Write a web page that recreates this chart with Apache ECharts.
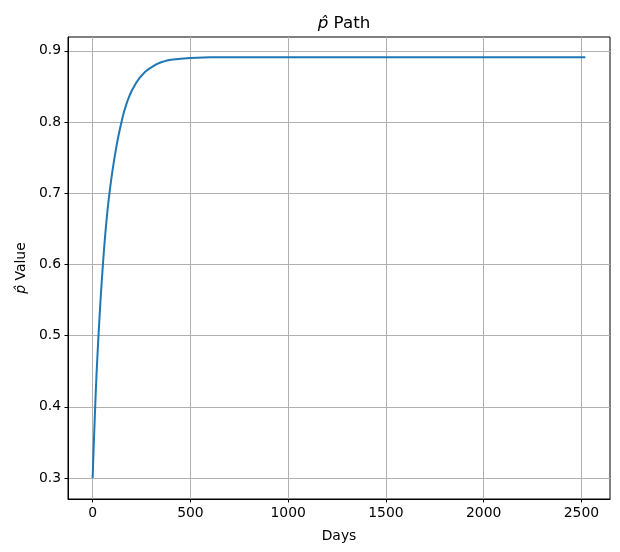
<!DOCTYPE html>
<html>
<head>
<meta charset="utf-8">
<script src="https://cdn.jsdelivr.net/npm/echarts@6.0.0/dist/echarts.min.js"></script>
<style>
html,body{margin:0;padding:0;background:#fff;}
#chart{width:620px;height:552px;}
</style>
</head>
<body>
<div id="chart"></div>
<script>
const days = [0,5,10,15,20,25,30,35,40,45,50,55,60,65,70,75,80,90,100,110,120,130,140,150,160,170,180,190,200,210,220,230,240,250,260,270,280,290,300,325,350,375,400,450,500,600,800,1000,1250,1500,1750,2000,2250,2520];
const pHat = [0.300,0.341,0.378,0.414,0.446,0.474,0.500,0.525,0.548,0.570,0.590,0.609,0.627,0.644,0.659,0.673,0.686,0.709,0.729,0.747,0.763,0.778,0.791,0.803,0.814,0.823,0.831,0.838,0.844,0.849,0.854,0.858,0.862,0.865,0.868,0.871,0.873,0.875,0.877,0.881,0.884,0.886,0.8875,0.889,0.890,0.891,0.891,0.891,0.891,0.891,0.891,0.891,0.891,0.891];
const xTicks = [0,500,1000,1500,2000,2500];
const yTicks = [0.3,0.4,0.5,0.6,0.7,0.8,0.9];

const FONT = 'DejaVu Sans';
const chart = echarts.init(document.getElementById('chart'), null, {renderer:'canvas'});
const series = days.map((d,i)=>[d,pHat[i]]);
chart.setOption({
  animation:false,
  backgroundColor:'#fff',
  title:{
    text:'{it|p\u0302} Path',
    left:339, top:10, textAlign:'center',
    textStyle:{
      fontFamily:FONT, fontSize:16.7, fontWeight:'normal', color:'#000',
      rich:{it:{fontFamily:FONT, fontSize:16.7, fontStyle:'italic', color:'#000'}}
    }
  },
  grid:{left:68,right:10,top:37,bottom:53,show:true,borderColor:'#000',borderWidth:1,backgroundColor:'transparent'},
  xAxis:{
    type:'value', min:-126, max:2646,
    name:'Days', nameLocation:'middle', nameGap:30,
    nameTextStyle:{fontFamily:FONT,fontSize:13.9,color:'#000'},
    axisLine:{show:true,onZero:false,lineStyle:{color:'#000',width:1}},
    axisTick:{show:true,inside:false,length:3.5,lineStyle:{color:'#000'},customValues:xTicks},
    axisLabel:{fontFamily:FONT,fontSize:13.9,color:'#000',margin:7,customValues:xTicks,formatter:v=>String(v)},
    splitLine:{show:true,lineStyle:{color:'#b0b0b0',width:1}}
  },
  yAxis:{
    type:'value', min:0.2705, max:0.9195,
    name:'{it|p\u0302} Value', nameLocation:'middle', nameGap:40,
    nameTextStyle:{fontFamily:FONT,fontSize:13.9,color:'#000',
      rich:{it:{fontFamily:FONT,fontSize:13.9,fontStyle:'italic',color:'#000'}}},
    axisLine:{show:true,onZero:false,lineStyle:{color:'#000',width:1}},
    axisTick:{show:true,inside:false,length:3.5,lineStyle:{color:'#000'},customValues:yTicks},
    axisLabel:{fontFamily:FONT,fontSize:13.9,color:'#000',margin:7,customValues:yTicks,formatter:v=>v.toFixed(1)},
    splitLine:{show:true,lineStyle:{color:'#b0b0b0',width:1}}
  },
  series:[{
    type:'line', data:series, showSymbol:false, smooth:false,
    lineStyle:{color:'#1f77b4',width:2}, itemStyle:{color:'#1f77b4'}
  }]
});
</script>
</body>
</html>
